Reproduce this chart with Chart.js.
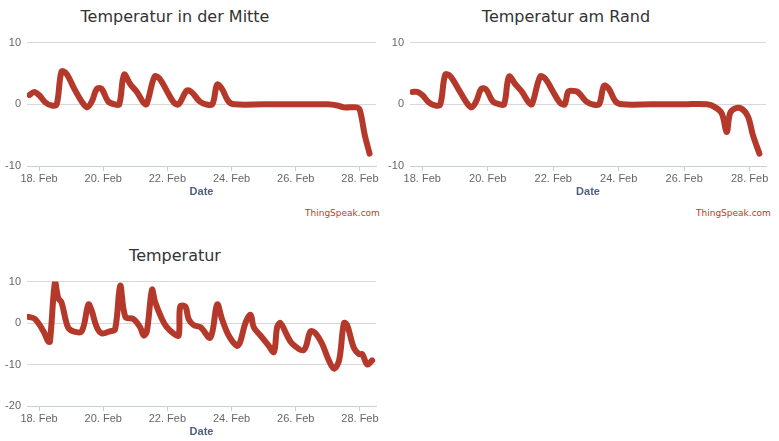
<!DOCTYPE html>
<html>
<head>
<meta charset="utf-8">
<script src="https://cdn.jsdelivr.net/npm/chart.js@4"></script>
<style>
  body { margin: 0; background: #fff; width: 779px; height: 441px; position: relative; overflow: hidden; font-family: "DejaVu Sans", sans-serif; }
  .box { position: absolute; }
  .title { position: absolute; font-size: 16px; color: #333; white-space: nowrap; transform: translateX(-50%); }
  .credit { position: absolute; font-size: 9px; color: #c0392b; }
</style>
</head>
<body>
<div class="title" style="left:175px;top:7px">Temperatur in der Mitte</div>
<div class="title" style="left:566px;top:7px">Temperatur am Rand</div>
<div class="title" style="left:175px;top:246px">Temperatur</div>
<div class="credit" style="left:305px;top:208px">ThingSpeak.com</div>
<div class="credit" style="left:696px;top:208px">ThingSpeak.com</div>
<div class="box" style="left:0;top:30px;width:385px;height:171px"><canvas id="c1"></canvas></div>
<div class="box" style="left:383px;top:30px;width:392px;height:171px"><canvas id="c2"></canvas></div>
<div class="box" style="left:0;top:269px;width:385px;height:172px"><canvas id="c3"></canvas></div>
<script>
// Tage (Februar) und Temperaturen
const mitteDays = [17.7, 17.85, 18.0, 18.2, 18.4, 18.55, 18.7, 18.85, 19.1, 19.35, 19.5, 19.65, 19.8, 19.95, 20.15, 20.35, 20.5, 20.65, 20.85, 21.05, 21.25, 21.35, 21.6, 21.75, 22.0, 22.2, 22.35, 22.6, 22.75, 23.0, 23.2, 23.4, 23.55, 23.7, 23.9, 24.1, 25, 26, 27.0, 27.3, 27.5, 27.9, 28.0, 28.15, 28.3];
const mitteTemp = [1.5, 2, 1.5, 0.3, -0.2, 0, 5.3, 5, 2.5, 0.3, -0.5, 0.5, 2.5, 2.5, 0.5, 0, 0, 4.8, 3.2, 2, 0.3, 0, 4.5, 4.2, 2, 0.3, 0, 2.2, 2, 0.5, 0, 0, 3.2, 2.5, 0.5, 0, 0, 0, 0, -0.2, -0.5, -0.5, -1, -5, -8];

const randDays = [17.7, 17.85, 18.0, 18.2, 18.4, 18.55, 18.7, 18.85, 19.1, 19.35, 19.5, 19.65, 19.8, 19.95, 20.15, 20.35, 20.5, 20.65, 20.85, 21.05, 21.25, 21.35, 21.6, 21.75, 22.0, 22.2, 22.35, 22.45, 22.55, 22.75, 23.0, 23.2, 23.4, 23.55, 23.7, 23.9, 24.1, 25, 26, 26.7, 26.95, 27.15, 27.3, 27.4, 27.55, 27.75, 27.95, 28.1, 28.3];
const randTemp = [2, 2, 1.5, 0.3, -0.2, 0, 4.8, 4.6, 2.5, 0.3, -0.5, 0.5, 2.5, 2.4, 0.5, 0, 0, 4.5, 3.2, 2, 0.3, 0, 4.5, 4.2, 2, 0.3, 0, 2, 2.2, 2, 0.5, 0, 0, 3, 2.5, 0.5, 0, 0, 0, 0, -0.5, -1.5, -4.5, -1.5, -0.7, -0.7, -2, -5, -8];

const tempDays = [17.67, 17.87, 18.14, 18.29, 18.34, 18.5, 18.6, 18.7, 18.9, 19.07, 19.33, 19.54, 19.64, 19.8, 19.96, 20.2, 20.37, 20.53, 20.69, 20.94, 21.15, 21.26, 21.36, 21.52, 21.62, 21.83, 21.98, 22.19, 22.35, 22.4, 22.56, 22.66, 22.82, 23.03, 23.34, 23.55, 23.7, 23.91, 24.17, 24.27, 24.43, 24.59, 24.69, 24.9, 25.16, 25.32, 25.42, 25.52, 25.73, 25.89, 26.25, 26.46, 26.62, 26.82, 27.03, 27.19, 27.35, 27.5, 27.6, 27.81, 27.97, 28.07, 28.23, 28.38];
const tempVals = [1.5, 1, -2, -4.5, -4.5, 10, 6, 5, -1, -2, -2, 4.5, 3, -1, -2.5, -2, -1.5, 9, 1.5, 1, -1, -3, -2, 8, 5, 1, -1, -2.5, -3, 4, 4, 1, -0.5, -1, -3.5, 4.5, 1, -3, -5.5, -4.5, 0, 2, -1, -3, -5.5, -7, -1, 0, -3, -5, -6.5, -2, -2.5, -5, -9, -11, -9, 0, -0.5, -6, -7.5, -7.5, -10, -9];

const dayTicks = [18, 20, 22, 24, 26, 28];

function makeChart(id, days, temps, yMin, yMax) {
    return new Chart(document.getElementById(id), {
        type: 'line',
        data: {
            datasets: [{
                data: days.map((d, i) => ({ x: d, y: temps[i] })),
                borderColor: '#b5392b',
                borderWidth: 6,
                pointRadius: 0,
                tension: 0.35,
                borderCapStyle: 'round',
                borderJoinStyle: 'round'
            }]
        },
        options: {
            responsive: true,
            maintainAspectRatio: false,
            animation: false,
            layout: { padding: { top: 6, right: 9 } },
            plugins: { legend: { display: false }, tooltip: { enabled: false } },
            scales: {
                x: {
                    type: 'linear',
                    min: 17.625,
                    max: 28.5,
                    afterBuildTicks: s => { s.ticks = dayTicks.map(v => ({ value: v })); },
                    afterFit: s => { s.height = 35; },
                    ticks: { callback: v => v + '. Feb', color: '#666', font: { size: 11 }, maxRotation: 0, padding: 1 },
                    grid: { drawOnChartArea: false, tickLength: 5, color: '#c0d0e0' },
                    border: { color: '#c0d0e0' },
                    title: { display: true, text: 'Date', color: '#4d5f80', font: { size: 11, weight: 'bold' }, padding: 2 }
                },
                y: {
                    min: yMin,
                    max: yMax,
                    afterFit: s => { s.width = 27; },
                    ticks: { stepSize: 10, color: '#666', font: { size: 11 }, padding: 6 },
                    grid: { drawTicks: false, color: '#d8d8d8' },
                    border: { display: false }
                }
            }
        }
    });
}

makeChart('c1', mitteDays, mitteTemp, -10, 10);
makeChart('c2', randDays, randTemp, -10, 10);
makeChart('c3', tempDays, tempVals, -20, 10);
</script>
</body>
</html>
